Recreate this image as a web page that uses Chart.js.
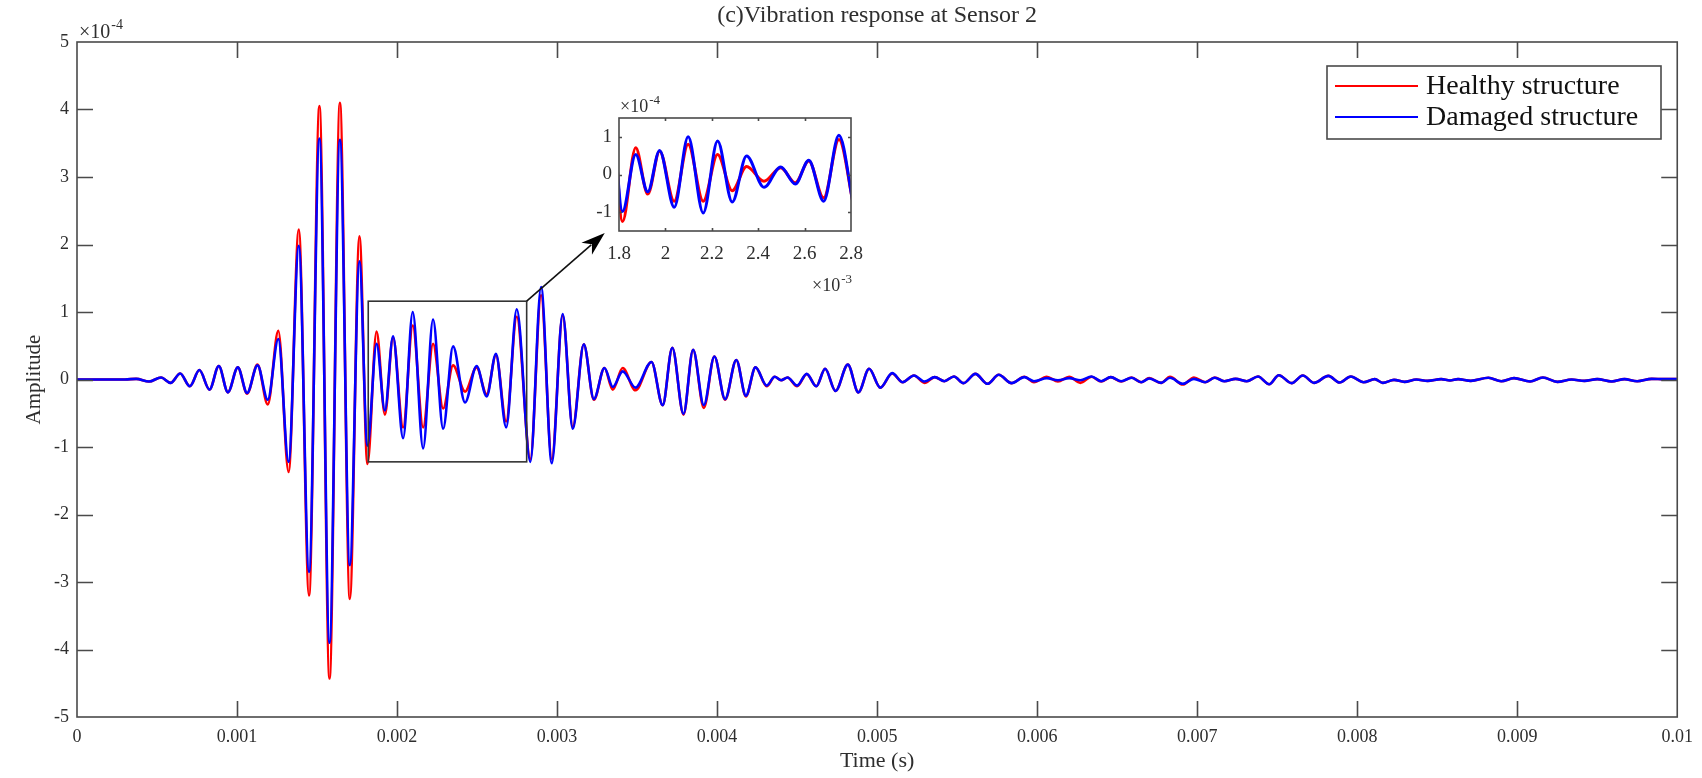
<!DOCTYPE html>
<html><head><meta charset="utf-8">
<script src="https://cdn.jsdelivr.net/npm/chart.js@4.4.0/dist/chart.umd.min.js"></script>
<style>
html,body{margin:0;padding:0;background:#fff;}
#wrap{position:relative;width:1702px;height:778px;overflow:hidden;}
#main{position:absolute;left:0;top:0;}
#inset{position:absolute;left:560px;top:80px;}
</style></head><body>
<div id="wrap"><canvas id="main" width="1702" height="778"></canvas><canvas id="inset" width="320" height="220"></canvas></div>
<script>
// ---- data (time in ms, amplitude in units of 1e-4) ----
const timeMs = [0,0.30,0.37,0.45,0.525,0.585,0.645,0.705,0.765,0.828,0.886,0.943,1.005,1.063,1.128,1.192,1.258,1.322,1.386,1.45,1.515,1.578,1.643,1.705,1.765,1.815,1.872,1.924,1.975,2.038,2.098,2.163,2.225,2.288,2.35,2.425,2.497,2.56,2.618,2.682,2.748,2.833,2.9,2.967,3.035,3.098,3.167,3.23,3.296,3.348,3.41,3.49,3.59,3.66,3.72,3.79,3.85,3.917,3.983,4.05,4.12,4.18,4.24,4.31,4.36,4.4,4.44,4.5,4.56,4.62,4.675,4.74,4.817,4.883,4.95,5.02,5.094,5.16,5.23,5.296,5.36,5.42,5.48,5.54,5.614,5.69,5.76,5.84,5.92,5.98,6.06,6.13,6.2,6.27,6.34,6.40,6.46,6.525,6.59,6.65,6.70,6.775,6.83,6.91,6.98,7.05,7.11,7.17,7.24,7.31,7.38,7.45,7.51,7.59,7.66,7.73,7.82,7.89,7.96,8.04,8.11,8.16,8.23,8.295,8.37,8.44,8.525,8.58,8.63,8.71,8.82,8.9,8.98,9.08,9.16,9.25,9.34,9.42,9.5,9.59,9.67,9.75,9.84,9.92,10.0];
const healthy = [0,0,0.01,-0.03,0.03,-0.05,0.09,-0.1,0.14,-0.15,0.2,-0.19,0.18,-0.21,0.22,-0.37,0.72,-1.37,2.22,-3.2,4.05,-4.43,4.1,-3.25,2.12,-1.25,0.71,-0.52,0.62,-0.71,0.8,-0.71,0.53,-0.43,0.21,-0.18,0.18,-0.22,0.36,-0.62,0.93,-1.18,1.25,-1.18,0.95,-0.7,0.52,-0.3,0.17,-0.15,0.17,-0.16,0.26,-0.38,0.47,-0.52,0.44,-0.42,0.34,-0.3,0.29,-0.25,0.18,-0.1,0.04,-0.01,0.03,-0.1,0.08,-0.1,0.16,-0.17,0.22,-0.19,0.16,-0.12,0.09,-0.04,0.06,-0.05,0.035,-0.025,0.045,-0.054,0.084,-0.064,0.07,-0.054,0.04,-0.04,0.04,-0.03,0.04,-0.05,0.04,-0.03,0.035,-0.03,0.03,-0.04,0.02,-0.05,0.04,-0.075,0.03,-0.04,0.03,-0.025,0.01,-0.025,0.044,-0.07,0.064,-0.054,0.06,-0.05,0.054,-0.045,0.044,-0.04,0.005,-0.05,-0.005,-0.035,0,-0.02,0.005,-0.015,0.005,-0.02,0.025,-0.025,0.02,-0.03,0.03,-0.035,0,-0.02,0.005,-0.03,0.005,-0.025,0.01,0.005,0.005];
const damaged = [0,0,0.01,-0.03,0.03,-0.05,0.09,-0.1,0.14,-0.15,0.2,-0.19,0.18,-0.2,0.21,-0.3,0.6,-1.22,1.98,-2.85,3.57,-3.9,3.55,-2.75,1.75,-0.98,0.53,-0.46,0.64,-0.87,1.0,-1.02,0.89,-0.73,0.49,-0.34,0.2,-0.25,0.38,-0.71,1.04,-1.22,1.37,-1.24,0.97,-0.73,0.52,-0.29,0.17,-0.11,0.12,-0.12,0.26,-0.38,0.47,-0.51,0.44,-0.38,0.34,-0.29,0.29,-0.24,0.18,-0.09,0.04,-0.01,0.03,-0.09,0.084,-0.1,0.16,-0.17,0.22,-0.19,0.16,-0.12,0.094,-0.04,0.06,-0.03,0.035,-0.025,0.045,-0.054,0.084,-0.064,0.07,-0.054,0.035,-0.025,0.02,-0.01,0.02,-0.01,0.044,-0.025,0.035,-0.025,0.025,-0.04,0.015,-0.05,0.025,-0.064,0.01,-0.04,0.025,-0.025,0.01,-0.025,0.044,-0.07,0.064,-0.054,0.06,-0.05,0.054,-0.045,0.044,-0.04,0.005,-0.05,-0.005,-0.035,0,-0.02,0.005,-0.015,0.005,-0.02,0.025,-0.025,0.02,-0.03,0.03,-0.035,0,-0.02,0.005,-0.03,0.005,-0.025,0.01,0.005,0.005];
const seriesNames = ['Healthy structure', 'Damaged structure'];
const xTickValues = [0,1,2,3,4,5,6,7,8,9,10];
const xTickLabels = ['0','0.001','0.002','0.003','0.004','0.005','0.006','0.007','0.008','0.009','0.01'];
const yTickValues = [-5,-4,-3,-2,-1,0,1,2,3,4,5];
const yTickLabels = ['-5','-4','-3','-2','-1','0','1','2','3','4','5'];
const insetXTickValues = [1.8,2.0,2.2,2.4,2.6,2.8];
const insetXTickLabels = ['1.8','2','2.2','2.4','2.6','2.8'];
const insetYTickValues = [-1,0,1];
const insetYTickLabels = ['-1','0','1'];
const zoomRect = {x0:1.82, x1:2.81, y0:-1.22, y1:1.16};
const arrowTip = {x:3.298, y:2.17};
const titleText = '(c)Vibration response at Sensor 2';

// ---- styling ----
const FONT = '"Liberation Serif", "Times New Roman", serif';
const TXT = '#2e2e2e';
const AX = '#4a4a4a';

function pts(arr){ return timeMs.map((t,i)=>({x:t, y:arr[i]})); }
function datasets(w){
  return [
    {label: seriesNames[0], data: pts(healthy), borderColor:'#ff0000', borderWidth:w, pointRadius:0, cubicInterpolationMode:'monotone', fill:false, order:1},
    {label: seriesNames[1], data: pts(damaged), borderColor:'#0000ff', borderWidth:w, pointRadius:0, cubicInterpolationMode:'monotone', fill:false, order:0}
  ];
}
function drawExp(ctx, x, y, base, sup, fs, align){
  ctx.save();
  ctx.fillStyle = TXT; ctx.textBaseline = 'alphabetic';
  ctx.font = fs + 'px ' + FONT;
  const wb = ctx.measureText(base).width;
  ctx.font = Math.round(fs*0.7) + 'px ' + FONT;
  const ws = ctx.measureText(sup).width;
  let x0 = align === 'right' ? x - wb - ws : x;
  ctx.font = fs + 'px ' + FONT; ctx.textAlign = 'left';
  ctx.fillText(base, x0, y);
  ctx.font = Math.round(fs*0.7) + 'px ' + FONT;
  ctx.fillText(sup, x0 + wb + 1, y - fs*0.45);
  ctx.restore();
}
function boxAndTicks(chart, len, lw){
  const {ctx, chartArea:a, scales:{x, y}} = chart;
  ctx.save();
  ctx.strokeStyle = AX; ctx.lineWidth = lw;
  ctx.beginPath();
  x.ticks.forEach(t => {
    const px = Math.round(x.getPixelForValue(t.value)) + 0.5;
    if (px <= a.left + 1 || px >= a.right - 1) return;
    ctx.moveTo(px, a.bottom); ctx.lineTo(px, a.bottom - len);
    ctx.moveTo(px, a.top); ctx.lineTo(px, a.top + len);
  });
  y.ticks.forEach(t => {
    const py = Math.round(y.getPixelForValue(t.value)) + 0.5;
    if (py <= a.top + 1 || py >= a.bottom - 1) return;
    ctx.moveTo(a.left, py); ctx.lineTo(a.left + len, py);
    ctx.moveTo(a.right, py); ctx.lineTo(a.right - len, py);
  });
  ctx.stroke();
  ctx.strokeRect(a.left, a.top, a.right - a.left, a.bottom - a.top);
  ctx.restore();
}

const mainDecor = {
  id: 'mainDecor',
  afterDatasetsDraw(chart){
    const {ctx, scales:{x, y}} = chart;
    const rx0 = x.getPixelForValue(zoomRect.x0), rx1 = x.getPixelForValue(zoomRect.x1);
    const ry0 = y.getPixelForValue(zoomRect.y0), ry1 = y.getPixelForValue(zoomRect.y1);
    ctx.save();
    ctx.strokeStyle = '#333'; ctx.lineWidth = 1.6;
    ctx.strokeRect(rx0, ry1, rx1 - rx0, ry0 - ry1);
    const ax = x.getPixelForValue(arrowTip.x), ay = y.getPixelForValue(arrowTip.y);
    const ang = Math.atan2(ay - ry1, ax - rx1);
    const hl = 24, hw = 8;
    const bx = ax - hl*Math.cos(ang), by = ay - hl*Math.sin(ang);
    ctx.strokeStyle = '#111'; ctx.lineWidth = 1.6;
    ctx.beginPath(); ctx.moveTo(rx1, ry1); ctx.lineTo(bx + 6*Math.cos(ang), by + 6*Math.sin(ang)); ctx.stroke();
    ctx.fillStyle = '#000';
    ctx.beginPath();
    ctx.moveTo(ax, ay);
    ctx.lineTo(bx - hw*Math.sin(ang), by + hw*Math.cos(ang));
    ctx.lineTo(bx + 7*Math.cos(ang), by + 7*Math.sin(ang));
    ctx.lineTo(bx + hw*Math.sin(ang), by - hw*Math.cos(ang));
    ctx.closePath(); ctx.fill();
    ctx.restore();
  },
  afterDraw(chart){
    const {ctx, chartArea:a} = chart;
    boxAndTicks(chart, 16, 1.6);
    ctx.save();
    ctx.fillStyle = TXT; ctx.font = '24px ' + FONT; ctx.textAlign = 'center'; ctx.textBaseline = 'middle';
    ctx.fillText(titleText, (a.left + a.right)/2, 16);
    ctx.restore();
    drawExp(ctx, a.left + 2, 38, '\u00d710', '-4', 20, 'left');
    const L = {x:1327, y:66, w:334, h:73};
    ctx.save();
    ctx.fillStyle = '#fff'; ctx.fillRect(L.x, L.y, L.w, L.h);
    ctx.strokeStyle = AX; ctx.lineWidth = 1.6; ctx.strokeRect(L.x, L.y, L.w, L.h);
    const ds = chart.data.datasets;
    const rows = [86, 117];
    ds.forEach((d, i) => {
      ctx.strokeStyle = d.borderColor; ctx.lineWidth = 2.2;
      ctx.beginPath(); ctx.moveTo(1335, rows[i]); ctx.lineTo(1418, rows[i]); ctx.stroke();
      ctx.fillStyle = '#111'; ctx.font = '28px ' + FONT; ctx.textAlign = 'left'; ctx.textBaseline = 'middle';
      ctx.fillText(d.label, 1426, rows[i] + 1);
    });
    ctx.restore();
  }
};

Chart.defaults.font.family = FONT;
Chart.defaults.color = TXT;

new Chart(document.getElementById('main'), {
  type: 'line',
  data: { datasets: datasets(2.6) },
  options: {
    responsive: false, animation: false, devicePixelRatio: 1,
    layout: { padding: { left: 0, right: 24, top: 42, bottom: 0 } },
    plugins: { legend: {display:false}, title: {display:false}, tooltip: {enabled:false} },
    scales: {
      x: {
        type: 'linear', min: 0, max: 10,
        afterBuildTicks: s => { s.ticks = xTickValues.map(v => ({value: v})); },
        ticks: { callback: (v) => xTickLabels[xTickValues.indexOf(v)], font: {size: 18}, color: TXT, padding: 9, maxRotation: 0, autoSkip: false },
        grid: { display: false, drawTicks: false }, border: { display: false },
        title: { display: true, text: 'Time (s)', font: {size: 22}, color: TXT, padding: {top: 0, bottom: 4} },
        afterFit: s => { s.height = 61; }
      },
      y: {
        type: 'linear', min: -5, max: 5,
        afterBuildTicks: s => { s.ticks = yTickValues.map(v => ({value: v})); },
        ticks: { callback: (v) => yTickLabels[yTickValues.indexOf(v)], font: {size: 18}, color: TXT, padding: 8, autoSkip: false },
        grid: { display: false, drawTicks: false }, border: { display: false },
        title: { display: true, text: 'Amplitude', font: {size: 21}, color: TXT, padding: {top: 22, bottom: 0} },
        afterFit: s => { s.width = 77; }
      }
    }
  },
  plugins: [mainDecor]
});

const insetDecor = {
  id: 'insetDecor',
  beforeDatasetsDraw(chart){
    const {ctx, chartArea:a} = chart;
    ctx.save(); ctx.fillStyle = '#fff'; ctx.fillRect(a.left, a.top, a.right - a.left, a.bottom - a.top); ctx.restore();
  },
  afterDraw(chart){
    const {ctx, chartArea:a} = chart;
    boxAndTicks(chart, 3, 1.6);
    drawExp(ctx, a.left + 1, 32, '\u00d710', '-4', 18, 'left');
    drawExp(ctx, a.right, 211, '\u00d710', '-3', 18, 'right');
  }
};

new Chart(document.getElementById('inset'), {
  type: 'line',
  data: { datasets: datasets(3) },
  options: {
    responsive: false, animation: false, devicePixelRatio: 1,
    layout: { padding: { left: 0, right: 29, top: 38, bottom: 0 } },
    plugins: { legend: {display:false}, title: {display:false}, tooltip: {enabled:false} },
    scales: {
      x: {
        type: 'linear', min: 1.8, max: 2.8,
        afterBuildTicks: s => { s.ticks = insetXTickValues.map(v => ({value: v})); },
        ticks: { callback: (v) => insetXTickLabels[insetXTickValues.findIndex(q => Math.abs(q - v) < 1e-9)], font: {size: 19}, color: TXT, padding: 12, maxRotation: 0, autoSkip: false },
        grid: { display: false, drawTicks: false }, border: { display: false },
        afterFit: s => { s.height = 69; }
      },
      y: {
        type: 'linear', min: -1.5, max: 1.5,
        afterBuildTicks: s => { s.ticks = insetYTickValues.map(v => ({value: v})); },
        ticks: { callback: (v) => insetYTickLabels[insetYTickValues.indexOf(v)], font: {size: 19}, color: TXT, padding: 7, autoSkip: false },
        grid: { display: false, drawTicks: false }, border: { display: false },
        afterFit: s => { s.width = 59; }
      }
    }
  },
  plugins: [insetDecor]
});
</script>
</body></html>
